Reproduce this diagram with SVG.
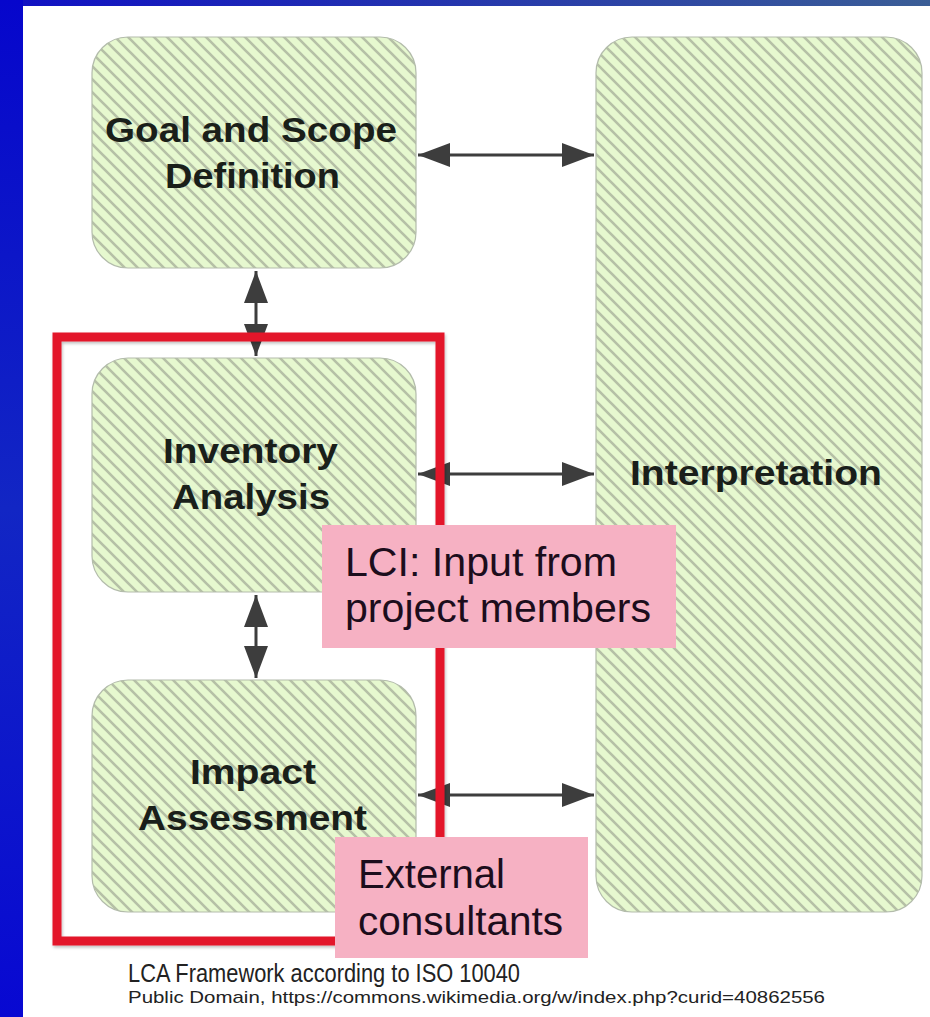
<svg xmlns="http://www.w3.org/2000/svg" width="930" height="1017" viewBox="0 0 930 1017">
  <defs>
    <linearGradient id="topband" x1="0" y1="0" x2="1" y2="0">
      <stop offset="0" stop-color="#1010c4"/>
      <stop offset="1" stop-color="#3b5e96"/>
    </linearGradient>
    <linearGradient id="leftband" x1="0" y1="0" x2="0" y2="1">
      <stop offset="0" stop-color="#0606cc"/>
      <stop offset="0.5" stop-color="#1226c4"/>
      <stop offset="1" stop-color="#0808d2"/>
    </linearGradient>
    <pattern id="hatch" patternUnits="userSpaceOnUse" width="13" height="13">
      <rect width="13" height="13" fill="#e6f8cf"/>
      <path d="M-3,-3 L16,16 M-3,10 L3,16 M10,-3 L16,3" stroke="#b5c0a6" stroke-width="2.6"/>
    </pattern>
    <marker id="ah" viewBox="0 0 32 24" refX="32" refY="12" markerUnits="userSpaceOnUse" markerWidth="32" markerHeight="24" orient="auto-start-reverse">
      <path d="M0,0 L32,12 L0,24 Z" fill="#3d3d3d"/>
    </marker>
    <filter id="sh" x="-5%" y="-5%" width="110%" height="110%">
      <feDropShadow dx="1" dy="2" stdDeviation="1.5" flood-color="#000" flood-opacity="0.25"/>
    </filter>
  </defs>
  <style>
    .box { fill: url(#hatch); stroke: #b3bcab; stroke-width: 1.2; }
    .lbl { font-family: "Liberation Sans", Arial, sans-serif; font-weight: bold; font-size: 35px; fill: #1a1f1a; }
    .note { fill: #f6b1c3; }
    .nt { font-family: "Liberation Sans", Arial, sans-serif; font-size: 40px; fill: #1c0d1c; }
    .conn { stroke: #3d3d3d; stroke-width: 3; fill: none; marker-start: url(#ah); marker-end: url(#ah); }
    .cap { font-family: "Liberation Sans", Arial, sans-serif; fill: #222; }
  </style>

  <rect width="930" height="1017" fill="#ffffff"/>
  <rect x="0" y="0" width="930" height="6" fill="url(#topband)"/>
  <rect x="0" y="0" width="23" height="1017" fill="url(#leftband)"/>

  <g id="interpretation">
    <rect class="box" x="596" y="37" width="326" height="875" rx="36"/>
    <text class="lbl" x="630" y="485" textLength="252" lengthAdjust="spacingAndGlyphs">Interpretation</text>
  </g>
  <g id="goal">
    <rect class="box" x="92" y="37" width="324" height="231" rx="36"/>
    <text class="lbl" x="105" y="142" textLength="292" lengthAdjust="spacingAndGlyphs">Goal and Scope</text>
    <text class="lbl" x="165" y="188" textLength="175" lengthAdjust="spacingAndGlyphs">Definition</text>
  </g>
  <g id="inventory">
    <rect class="box" x="92" y="358" width="324" height="234" rx="36"/>
    <text class="lbl" x="163" y="463" textLength="175" lengthAdjust="spacingAndGlyphs">Inventory</text>
    <text class="lbl" x="172" y="509" textLength="158" lengthAdjust="spacingAndGlyphs">Analysis</text>
  </g>
  <g id="impact">
    <rect class="box" x="92" y="680" width="324" height="232" rx="36"/>
    <text class="lbl" x="190" y="784" textLength="126" lengthAdjust="spacingAndGlyphs">Impact</text>
    <text class="lbl" x="138" y="830" textLength="229" lengthAdjust="spacingAndGlyphs">Assessment</text>
  </g>

  <g id="connectors">
    <line class="conn" x1="418" y1="155" x2="594" y2="155"/>
    <line class="conn" x1="256" y1="271" x2="256" y2="356"/>
    <line class="conn" x1="256" y1="595" x2="256" y2="678"/>
    <line class="conn" x1="418" y1="474" x2="594" y2="474"/>
    <line class="conn" x1="418" y1="795" x2="594" y2="795"/>
  </g>

  <g id="scope-frame">
    <rect x="57" y="337" width="383" height="604" fill="none" stroke="#e3122c" stroke-width="9" filter="url(#sh)"/>
  </g>

  <g id="note-lci">
    <rect class="note" x="322" y="525" width="354" height="123"/>
    <text class="nt" x="345" y="576" textLength="272" lengthAdjust="spacingAndGlyphs">LCI: Input from</text>
    <text class="nt" x="345" y="622" textLength="306" lengthAdjust="spacingAndGlyphs">project members</text>
  </g>
  <g id="note-ext">
    <rect class="note" x="335" y="837" width="253" height="121"/>
    <text class="nt" x="358" y="888" textLength="147" lengthAdjust="spacingAndGlyphs">External</text>
    <text class="nt" x="358" y="935" textLength="205" lengthAdjust="spacingAndGlyphs">consultants</text>
  </g>

  <g id="caption">
    <text class="cap" x="128" y="982" font-size="25" textLength="392" lengthAdjust="spacingAndGlyphs">LCA Framework according to ISO 10040</text>
    <text class="cap" x="128" y="1003" font-size="17" textLength="697" lengthAdjust="spacingAndGlyphs">Public Domain, https://commons.wikimedia.org/w/index.php?curid=40862556</text>
  </g>
</svg>
